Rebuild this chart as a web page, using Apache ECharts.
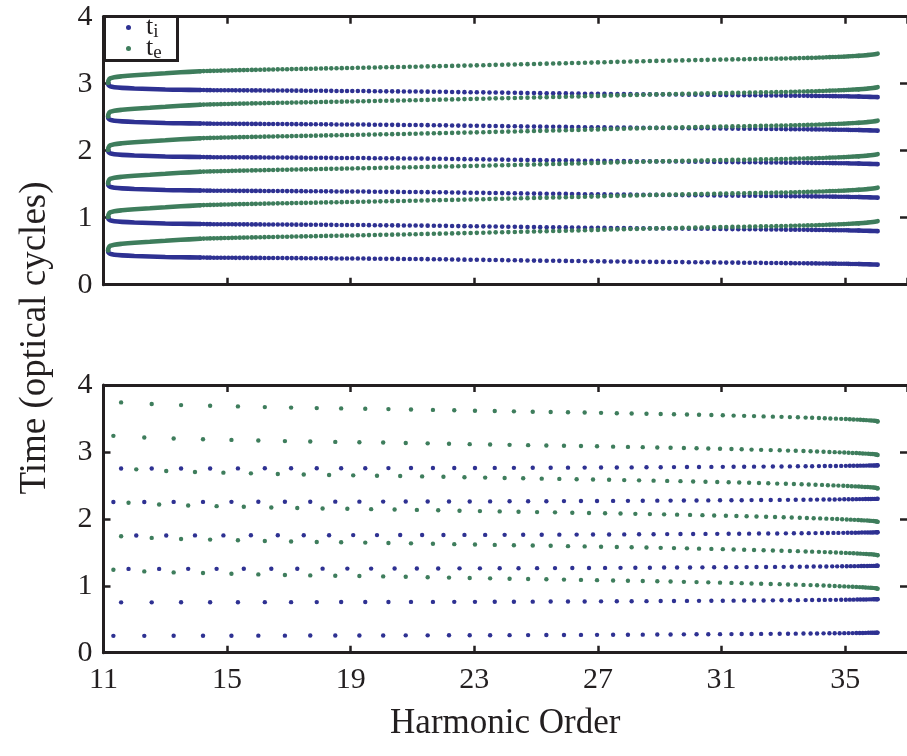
<!DOCTYPE html>
<html>
<head>
<meta charset="utf-8">
<title>Ionisation and emission times</title>
<script src="https://cdn.jsdelivr.net/npm/echarts@6.0.0/dist/echarts.min.js"></script>
<style>
  html, body { margin: 0; padding: 0; background: #fff; }
  #main { width: 907px; height: 756px; }
</style>
</head>
<body>
<div id="main"></div>
<script>
// axis ranges
var orderMin = 11, orderMax = 37, orderStep = 4;
var timeMin = 0, timeMax = 4, timeStep = 1;
var legendNames = ['t_i', 't_e'];

// each branch repeats every half optical cycle
var halfCycles = [0, 0.5, 1, 1.5, 2, 2.5];

// top panel (short trajectories): harmonic order of each sample dot
var shortOrder = [
  14.13, 14.24, 14.35, 14.45, 14.57, 14.68, 14.80, 14.92, 15.04, 15.16,
  15.28, 15.41, 15.54, 15.66, 15.80, 15.93, 16.07, 16.21, 16.35, 16.49,
  16.64, 16.79, 16.94, 17.09, 17.24, 17.40, 17.55, 17.71, 17.87, 18.04,
  18.20, 18.37, 18.54, 18.71, 18.88, 19.05, 19.23, 19.41, 19.59, 19.78,
  19.96, 20.15, 20.34, 20.53, 20.72, 20.91, 21.10, 21.29, 21.49, 21.69,
  21.88, 22.08, 22.28, 22.48, 22.68, 22.88, 23.08, 23.29, 23.49, 23.69,
  23.90, 24.10, 24.31, 24.51, 24.72, 24.93, 25.13, 25.34, 25.55, 25.75,
  25.96, 26.16, 26.37, 26.58, 26.79, 27.00, 27.21, 27.42, 27.63, 27.84,
  28.05, 28.26, 28.47, 28.68, 28.89, 29.10, 29.31, 29.52, 29.73, 29.94,
  30.15, 30.35, 30.55, 30.76, 30.96, 31.15, 31.35, 31.54, 31.73, 31.91,
  32.09, 32.27, 32.44, 32.61, 32.77, 32.93, 33.08, 33.24, 33.38, 33.52,
  33.66, 33.79, 33.92, 34.05, 34.16, 34.28, 34.39, 34.50, 34.60, 34.69,
  34.79, 34.87, 34.96, 35.04, 35.11, 35.18, 35.25, 35.32, 35.38, 35.44
];
var shortIonTime = [
  0.405, 0.405, 0.404, 0.404, 0.403, 0.403, 0.403, 0.402, 0.402, 0.402,
  0.401, 0.401, 0.401, 0.401, 0.400, 0.400, 0.400, 0.399, 0.399, 0.398,
  0.398, 0.398, 0.397, 0.397, 0.396, 0.396, 0.395, 0.395, 0.394, 0.394,
  0.393, 0.393, 0.392, 0.392, 0.391, 0.391, 0.390, 0.390, 0.389, 0.388,
  0.387, 0.386, 0.386, 0.385, 0.384, 0.383, 0.383, 0.382, 0.381, 0.380,
  0.379, 0.378, 0.376, 0.375, 0.374, 0.373, 0.372, 0.371, 0.369, 0.368,
  0.367, 0.365, 0.364, 0.363, 0.362, 0.360, 0.359, 0.358, 0.357, 0.356,
  0.355, 0.354, 0.353, 0.351, 0.350, 0.349, 0.348, 0.347, 0.346, 0.345,
  0.344, 0.343, 0.342, 0.341, 0.340, 0.340, 0.339, 0.338, 0.337, 0.336,
  0.335, 0.334, 0.334, 0.333, 0.332, 0.330, 0.330, 0.329, 0.328, 0.327,
  0.327, 0.326, 0.325, 0.324, 0.324, 0.323, 0.322, 0.322, 0.321, 0.320,
  0.320, 0.319, 0.318, 0.318, 0.317, 0.316, 0.316, 0.315, 0.314, 0.314,
  0.313, 0.313, 0.312, 0.312, 0.311, 0.310, 0.309, 0.309, 0.308, 0.308
];
var shortEmitTime = [
  0.685, 0.688, 0.689, 0.691, 0.692, 0.693, 0.695, 0.696, 0.697, 0.699,
  0.700, 0.702, 0.703, 0.704, 0.706, 0.707, 0.709, 0.710, 0.711, 0.712,
  0.714, 0.715, 0.716, 0.718, 0.719, 0.721, 0.722, 0.723, 0.725, 0.726,
  0.728, 0.729, 0.731, 0.732, 0.734, 0.735, 0.737, 0.739, 0.740, 0.742,
  0.744, 0.745, 0.747, 0.749, 0.750, 0.752, 0.754, 0.756, 0.758, 0.760,
  0.762, 0.764, 0.766, 0.768, 0.770, 0.772, 0.774, 0.776, 0.778, 0.781,
  0.783, 0.785, 0.787, 0.790, 0.792, 0.794, 0.796, 0.799, 0.801, 0.803,
  0.806, 0.808, 0.810, 0.813, 0.815, 0.818, 0.821, 0.823, 0.826, 0.828,
  0.831, 0.833, 0.836, 0.838, 0.840, 0.842, 0.844, 0.846, 0.848, 0.850,
  0.852, 0.854, 0.856, 0.858, 0.860, 0.861, 0.863, 0.864, 0.866, 0.867,
  0.869, 0.870, 0.872, 0.873, 0.874, 0.875, 0.877, 0.878, 0.880, 0.882,
  0.883, 0.885, 0.886, 0.888, 0.890, 0.892, 0.894, 0.896, 0.898, 0.899,
  0.901, 0.903, 0.904, 0.906, 0.908, 0.910, 0.912, 0.913, 0.915, 0.916
];
// where the dots are packed so tight they read as a solid stroke: [order, time]
var shortLoopIon = [[14.13, 0.405], [13.5, 0.409], [13.0, 0.413], [12.5, 0.420], [12.0, 0.428],
  [11.6, 0.438], [11.35, 0.448], [11.22, 0.460], [11.16, 0.480], [11.15, 0.510]];
var shortLoopEmit = [[11.15, 0.510], [11.16, 0.545], [11.22, 0.580], [11.35, 0.597], [11.6, 0.610],
  [12.0, 0.625], [12.5, 0.640], [13.0, 0.655], [13.5, 0.670], [14.13, 0.685]];
var shortTailIon = [[35.44, 0.308], [35.7, 0.305], [35.9, 0.302], [36.05, 0.300]];
var shortTailEmit = [[35.44, 0.916], [35.7, 0.927], [35.9, 0.937], [36.05, 0.948]];

// bottom panel (long trajectories): four interleaved sample grids
var longOrderB = [
  11.32, 12.32, 13.27, 14.22, 15.14, 16.01, 16.87, 17.69, 18.50, 19.28,
  20.05, 20.78, 21.49, 22.18, 22.85, 23.51, 24.14, 24.74, 25.33, 25.90,
  26.45, 26.97, 27.49, 27.97, 28.45, 28.92, 29.35, 29.78, 30.19, 30.57,
  30.95, 31.32, 31.65, 31.97, 32.28, 32.59, 32.88, 33.15, 33.40, 33.65,
  33.88, 34.09, 34.30, 34.49, 34.66, 34.82, 34.97, 35.11, 35.24, 35.36,
  35.47, 35.57, 35.66, 35.75, 35.83, 35.89, 35.95, 36.00, 36.03, 36.05
];
var longOrderA = [
  11.57, 12.56, 13.51, 14.45, 15.35, 16.22, 17.07, 17.90, 18.69, 19.47,
  20.22, 20.95, 21.66, 22.35, 23.02, 23.66, 24.28, 24.89, 25.47, 26.03,
  26.57, 27.10, 27.61, 28.09, 28.57, 29.03, 29.46, 29.88, 30.27, 30.67,
  31.04, 31.39, 31.73, 32.05, 32.36, 32.66, 32.94, 33.21, 33.47, 33.72,
  33.93, 34.15, 34.34, 34.52, 34.70, 34.87, 35.02, 35.15, 35.27, 35.39,
  35.49, 35.59, 35.68, 35.77, 35.84, 35.91, 35.96, 36.01, 36.04, 36.05
];
var longOrderD = [
  11.81, 12.80, 13.74, 14.66, 15.54, 16.43, 17.27, 18.09, 18.89, 19.66,
  20.42, 21.14, 21.83, 22.52, 23.18, 23.82, 24.43, 25.03, 25.61, 26.17,
  26.71, 27.23, 27.73, 28.21, 28.68, 29.14, 29.56, 29.98, 30.38, 30.76,
  31.14, 31.48, 31.81, 32.13, 32.44, 32.73, 33.01, 33.27, 33.53, 33.76,
  33.98, 34.19, 34.39, 34.58, 34.74, 34.90, 35.05, 35.18, 35.30, 35.42,
  35.52, 35.61, 35.71, 35.79, 35.86, 35.92, 35.97, 36.01, 36.04, 36.05
];
var longOrderC = [
  12.06, 13.03, 13.96, 14.88, 15.77, 16.64, 17.48, 18.30, 19.08, 19.85,
  20.60, 21.31, 22.00, 22.68, 23.35, 23.98, 24.58, 25.18, 25.75, 26.31,
  26.84, 27.36, 27.85, 28.33, 28.80, 29.24, 29.67, 30.08, 30.48, 30.86,
  31.23, 31.57, 31.89, 32.21, 32.51, 32.80, 33.08, 33.34, 33.59, 33.82,
  34.04, 34.25, 34.44, 34.62, 34.78, 34.94, 35.08, 35.21, 35.33, 35.44,
  35.54, 35.64, 35.73, 35.81, 35.88, 35.93, 35.98, 36.02, 36.04, 36.05
];
// which grid each half-cycle branch uses
var longBranchGrid = ['B', 'A', 'D', 'C', 'B', 'A'];
var longIonTime = [
  0.252, 0.252, 0.253, 0.253, 0.254, 0.255, 0.255, 0.256, 0.257, 0.257,
  0.258, 0.259, 0.259, 0.260, 0.260, 0.261, 0.262, 0.263, 0.264, 0.265,
  0.266, 0.267, 0.268, 0.269, 0.270, 0.272, 0.273, 0.274, 0.275, 0.276,
  0.277, 0.278, 0.279, 0.280, 0.281, 0.282, 0.283, 0.284, 0.285, 0.286,
  0.287, 0.288, 0.289, 0.290, 0.290, 0.291, 0.292, 0.293, 0.293, 0.294,
  0.295, 0.295, 0.296, 0.297, 0.297, 0.298, 0.298, 0.299, 0.299, 0.300
];
var longEmitTime = [
  1.240, 1.215, 1.200, 1.190, 1.180, 1.170, 1.162, 1.155, 1.150, 1.145,
  1.140, 1.134, 1.128, 1.122, 1.116, 1.111, 1.106, 1.101, 1.097, 1.092,
  1.088, 1.084, 1.079, 1.075, 1.071, 1.067, 1.063, 1.059, 1.055, 1.051,
  1.047, 1.043, 1.039, 1.035, 1.031, 1.027, 1.024, 1.020, 1.017, 1.013,
  1.010, 1.007, 1.003, 1.000, 0.997, 0.994, 0.991, 0.988, 0.985, 0.983,
  0.980, 0.977, 0.975, 0.972, 0.970, 0.968, 0.965, 0.962, 0.958, 0.955
];

var ink = '#231f20';
var blue = '#2e3192';
var green = '#3e7d5c';
var serif = '"Liberation Serif", "Times New Roman", serif';

window.onload = function () {
  var myChart = echarts.init(document.getElementById('main'), null, { renderer: 'canvas' });
  var longGrids = { A: longOrderA, B: longOrderB, C: longOrderC, D: longOrderD };

  function pairs(orders, times, offset) {
    var out = [];
    for (var i = 0; i < orders.length; i++) out.push([orders[i], times[i] + offset]);
    return out;
  }
  function shiftPath(path, offset) {
    return path.map(function (p) { return [p[0], p[1] + offset]; });
  }

  function xAxis(grid, pos, labels) {
    return {
      type: 'value', gridIndex: grid, position: pos,
      min: orderMin, max: orderMax, interval: orderStep,
      axisLine: { onZero: false, lineStyle: { color: ink, width: 3 } },
      axisTick: { inside: true, length: 7, lineStyle: { color: ink, width: 2.5 } },
      axisLabel: { show: labels, showMaxLabel: false, color: ink, fontFamily: serif, fontSize: 30, margin: 12 },
      splitLine: { show: false }
    };
  }
  function yAxis(grid, pos, labels) {
    return {
      type: 'value', gridIndex: grid, position: pos,
      min: timeMin, max: timeMax, interval: timeStep,
      // the right-hand frame line falls just past the picture edge; only its ticks show
      axisLine: { show: pos === 'left', onZero: false, lineStyle: { color: ink, width: 3 } },
      axisTick: { inside: true, length: 7, lineStyle: { color: ink, width: 2.5 } },
      axisLabel: { show: labels, color: ink, fontFamily: serif, fontSize: 30, margin: 11 },
      splitLine: { show: false }
    };
  }

  var bottomX = xAxis(1, 'bottom', true);
  bottomX.name = 'Harmonic Order';
  bottomX.nameLocation = 'middle';
  bottomX.nameGap = 54;
  bottomX.nameTextStyle = { color: ink, fontFamily: serif, fontSize: 35 };

  function strokes(path, color, xi) {
    return halfCycles.map(function (off) {
      return {
        type: 'line', xAxisIndex: xi, yAxisIndex: xi, silent: true,
        symbol: 'none', smooth: 0.3,
        lineStyle: { color: color, width: 4.6, cap: 'round' },
        data: shiftPath(path, off)
      };
    });
  }
  function dots(name, color, data, xi, size) {
    return {
      name: name, type: 'scatter', xAxisIndex: xi, yAxisIndex: xi, silent: true,
      symbol: 'circle', symbolSize: size, itemStyle: { color: color, opacity: 1 },
      data: data
    };
  }

  var topIon = [], topEmit = [], lowIon = [], lowEmit = [];
  halfCycles.forEach(function (off, k) {
    topIon = topIon.concat(pairs(shortOrder, shortIonTime, off));
    topEmit = topEmit.concat(pairs(shortOrder, shortEmitTime, off));
    var g = longGrids[longBranchGrid[k]];
    lowIon = lowIon.concat(pairs(g, longIonTime, off));
    lowEmit = lowEmit.concat(pairs(g, longEmitTime, off));
  });

  var series = [].concat(
    strokes(shortLoopIon, blue, 0),
    strokes(shortTailIon, blue, 0),
    [dots(legendNames[0], blue, topIon, 0, 4.6)],
    strokes(shortLoopEmit, green, 0),
    strokes(shortTailEmit, green, 0),
    [dots(legendNames[1], green, topEmit, 0, 4.6)],
    [dots(legendNames[0], blue, lowIon, 2, 4.4)],
    [dots(legendNames[1], green, lowEmit, 2, 4.4)]
  );

  // one legend per row so each row sits where the boxed key has it
  function legendRow(name, top) {
    return {
      orient: 'vertical', left: 126, top: top, z: 20,
      data: [{ name: name, icon: 'circle' }],
      itemWidth: 5, itemHeight: 5, padding: 0,
      selectedMode: false,
      formatter: function (n) { return '{t|t}{s|' + n.split('_')[1] + '}'; },
      textStyle: {
        color: ink,
        rich: {
          t: { fontFamily: serif, fontSize: 26, color: ink, padding: [0, 0, 0, 10] },
          s: { fontFamily: serif, fontSize: 19, color: ink, padding: [10, 0, 0, 0] }
        }
      }
    };
  }

  var option = {
    animation: false,
    backgroundColor: '#fff',
    textStyle: { fontFamily: serif, color: ink },
    grid: [
      { left: 103.5, top: 16.7, width: 806, height: 268 },
      { left: 103.5, top: 385, width: 806, height: 267.7 }
    ],
    xAxis: [xAxis(0, 'bottom', false), xAxis(0, 'top', false), bottomX, xAxis(1, 'top', false)],
    yAxis: [yAxis(0, 'left', true), yAxis(0, 'right', false), yAxis(1, 'left', true), yAxis(1, 'right', false)],
    legend: [legendRow(legendNames[0], 14.5), legendRow(legendNames[1], 35.5)],
    graphic: [{
      type: 'rect', z: 10, silent: true,
      shape: { x: 104.5, y: 16.5, width: 73, height: 44 },
      style: { fill: '#fff', stroke: ink, lineWidth: 3 }
    }, {
      type: 'text', x: 35, y: 338, rotation: Math.PI / 2, silent: true,
      style: { text: 'Time (optical cycles)', fill: ink, font: '37px "Liberation Serif"', align: 'center', verticalAlign: 'middle' }
    }],
    series: series
  };
  myChart.setOption(option);
};
</script>
</body>
</html>
